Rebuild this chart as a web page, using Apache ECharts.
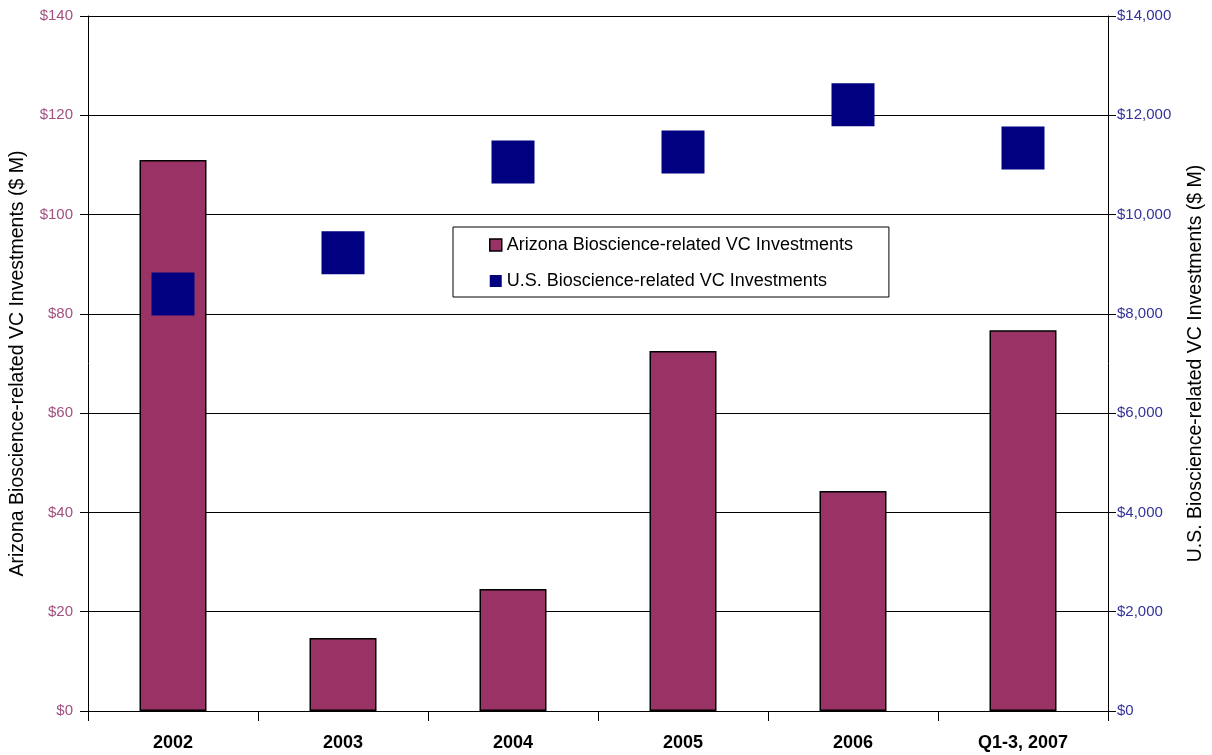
<!DOCTYPE html>
<html>
<head>
<meta charset="utf-8">
<script src="https://cdn.jsdelivr.net/npm/echarts@6/dist/echarts.min.js"></script>
<style>
  html, body { margin: 0; padding: 0; background: #fff; }
  #chart { width: 1212px; height: 755px; }
</style>
</head>
<body>
<div id="chart"></div>
<script>
// Venture capital investments in bioscience, $ millions
const categories = ['2002', '2003', '2004', '2005', '2006', 'Q1-3, 2007'];
const arizonaVC = [111.0, 14.7, 24.6, 72.5, 44.3, 76.7];
const usVC = [8400, 9230, 11060, 11260, 12210, 11340];

const leftTicks = { min: 0, max: 140, interval: 20 };
const rightTicks = { min: 0, max: 14000, interval: 2000 };

const FONT = 'Liberation Sans, Arial, sans-serif';

const chart = echarts.init(document.getElementById('chart'));
chart.setOption({
  backgroundColor: '#ffffff',
  animation: false,
  grid: { left: 88, right: 104, top: 16, bottom: 44, containLabel: false, outerBoundsMode: 'none' },
  legend: {
    orient: 'vertical',
    left: 453,
    top: 227,
    padding: [9, 36, 7, 36],
    itemGap: 18,
    itemWidth: 12,
    itemHeight: 12,
    borderColor: '#000',
    borderWidth: 1,
    backgroundColor: '#fff',
    textStyle: { fontFamily: FONT, fontSize: 18, color: '#000' },
    data: [
      { name: 'Arizona Bioscience-related VC Investments', icon: 'rect',
        itemStyle: { color: '#993366', borderColor: '#000', borderWidth: 1.5 } },
      { name: 'U.S. Bioscience-related VC Investments', icon: 'rect',
        itemStyle: { color: '#000080', borderWidth: 0 } }
    ]
  },
  xAxis: {
    type: 'category',
    data: categories,
    boundaryGap: true,
    axisLine: { show: true, lineStyle: { color: '#000', width: 1 } },
    axisTick: { show: true, alignWithLabel: false, inside: false, length: 10, lineStyle: { color: '#000' } },
    axisLabel: { fontFamily: FONT, fontSize: 18, fontWeight: 'bold', color: '#000', margin: 23 },
    splitLine: { show: false }
  },
  yAxis: [
    {
      type: 'value',
      position: 'left',
      min: leftTicks.min, max: leftTicks.max, interval: leftTicks.interval,
      name: 'Arizona Bioscience-related VC Investments ($ M)',
      nameLocation: 'middle',
      nameGap: 60,
      nameRotate: 90,
      nameTextStyle: { fontFamily: FONT, fontSize: 19.5, color: '#000' },
      axisLine: { show: true, lineStyle: { color: '#000', width: 1 } },
      axisTick: { show: true, length: 8, lineStyle: { color: '#000' } },
      axisLabel: { fontFamily: FONT, fontSize: 15, color: '#a2507f', margin: 15,
        formatter: v => '$' + v },
      splitLine: { show: true, lineStyle: { color: '#000', width: 1 } }
    },
    {
      type: 'value',
      position: 'right',
      min: rightTicks.min, max: rightTicks.max, interval: rightTicks.interval,
      name: 'U.S. Bioscience-related VC Investments ($ M)',
      nameLocation: 'middle',
      nameGap: 78,
      nameRotate: 90,
      nameTextStyle: { fontFamily: FONT, fontSize: 19.5, color: '#000' },
      axisLine: { show: true, lineStyle: { color: '#000', width: 1 } },
      axisTick: { show: true, length: 8, lineStyle: { color: '#000' } },
      axisLabel: { fontFamily: FONT, fontSize: 15, color: '#33339a', margin: 9,
        formatter: v => '$' + v.toLocaleString('en-US') },
      splitLine: { show: false }
    }
  ],
  series: [
    {
      name: 'Arizona Bioscience-related VC Investments',
      type: 'bar',
      yAxisIndex: 0,
      data: arizonaVC,
      barWidth: 67,
      itemStyle: { color: '#993366', borderColor: '#000', borderWidth: 1.5 }
    },
    {
      name: 'U.S. Bioscience-related VC Investments',
      type: 'scatter',
      yAxisIndex: 1,
      data: usVC,
      symbol: 'rect',
      symbolSize: 43,
      itemStyle: { color: '#000080', opacity: 1 }
    }
  ]
});
</script>
</body>
</html>
